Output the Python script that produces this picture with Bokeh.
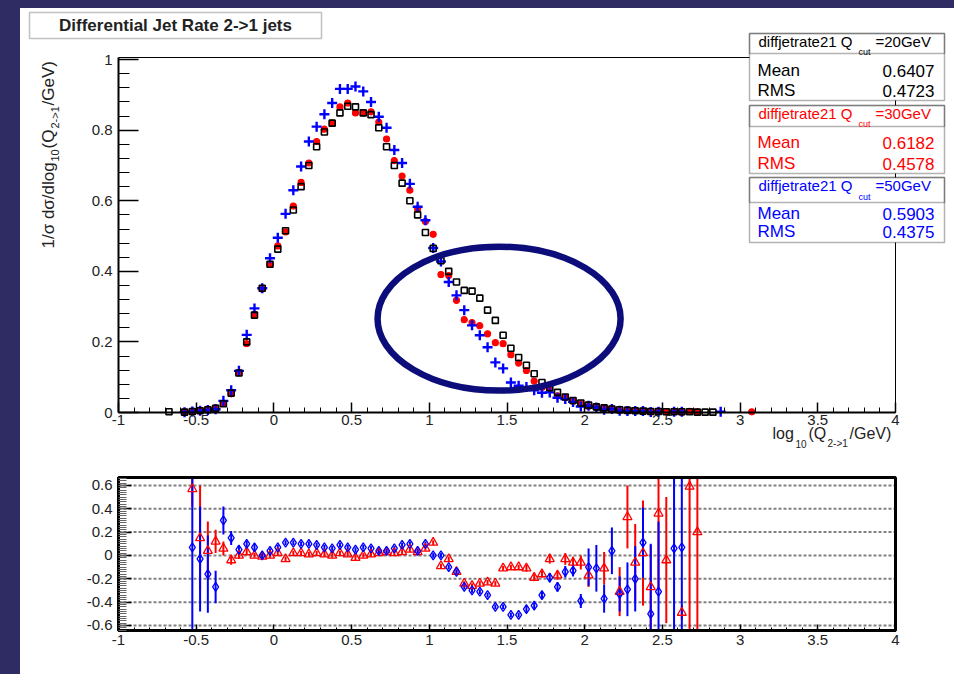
import math
import numpy as np
from bokeh.plotting import figure
from bokeh.models import (Range1d, SingleIntervalTicker, CustomJSTickFormatter, Label,
                          BoxAnnotation, Spacer, ColumnDataSource)
from bokeh.layouts import column, row
from bokeh.embed import file_html
from bokeh.resources import INLINE

nan = float("nan")

# ---------------------------------------------------------------- data
# bin centres of log10(Q_{2->1}/GeV)
bin_centres = [
    -0.675, -0.625, -0.575, -0.525, -0.475, -0.425, -0.375, -0.325, -0.275, -0.225,
    -0.175, -0.125, -0.075, -0.025, 0.025, 0.075, 0.125, 0.175, 0.225, 0.275,
    0.325, 0.375, 0.425, 0.475, 0.525, 0.575, 0.625, 0.675, 0.725, 0.775,
    0.825, 0.875, 0.925, 0.975, 1.025, 1.075, 1.125, 1.175, 1.225, 1.275,
    1.325, 1.375, 1.425, 1.475, 1.525, 1.575, 1.625, 1.675, 1.725, 1.775,
    1.825, 1.875, 1.925, 1.975, 2.025, 2.075, 2.125, 2.175, 2.225, 2.275,
    2.325, 2.375, 2.425, 2.475, 2.525, 2.575, 2.625, 2.675, 2.725, 2.775,
    2.825, 2.875, 2.925, 2.975, 3.025, 3.075,
]

# normalised differential rate, Q_cut = 20 GeV
rate_q20 = [
    0.002, nan, 0.001, 0.003, 0.005, 0.008, 0.012, 0.025, 0.055, 0.112,
    0.200, 0.276, 0.352, 0.420, 0.463, 0.515, 0.574, 0.640, 0.700, 0.753,
    0.795, 0.820, 0.849, 0.868, 0.866, 0.849, 0.844, 0.807, 0.753, 0.700,
    0.650, 0.600, 0.560, 0.510, 0.465, 0.430, 0.400, 0.370, 0.346, 0.344,
    0.324, 0.290, 0.261, 0.219, 0.182, 0.156, 0.134, 0.110, 0.085, 0.070,
    0.057, 0.044, 0.034, 0.027, 0.021, 0.016, 0.013, 0.010, 0.008, 0.006,
    0.005, 0.004, 0.003, 0.003, 0.002, 0.002, 0.002, 0.002, 0.001, 0.001,
    0.001, nan, nan, nan, nan, nan,
]

# Q_cut = 30 GeV
rate_q30 = [
    nan, nan, 0.002, 0.004, 0.006, 0.009, 0.013, 0.026, 0.053, 0.112,
    0.195, 0.278, 0.350, 0.420, 0.472, 0.512, 0.585, 0.652, 0.707, 0.768,
    0.803, 0.820, 0.866, 0.877, 0.849, 0.849, 0.852, 0.823, 0.775, 0.714,
    0.670, 0.630, 0.577, 0.541, 0.505, 0.391, 0.388, 0.318, 0.263, 0.255,
    0.246, 0.223, 0.198, 0.195, 0.164, 0.140, 0.119, 0.089, 0.071, 0.068,
    0.047, 0.043, 0.032, 0.025, 0.017, 0.015, 0.012, 0.010, 0.006, 0.008,
    0.005, 0.004, 0.002, 0.004, 0.002, 0.002, 0.001, 0.003, 0.002, nan,
    nan, nan, nan, nan, nan, 0.002,
]

# Q_cut = 50 GeV
rate_q50 = [
    nan, nan, 0.001, 0.003, 0.005, 0.007, 0.009, 0.033, 0.063, 0.118,
    0.220, 0.295, 0.352, 0.437, 0.495, 0.563, 0.630, 0.697, 0.768, 0.810,
    0.845, 0.877, 0.917, 0.917, 0.924, 0.910, 0.880, 0.838, 0.807, 0.744,
    0.707, 0.648, 0.583, 0.545, 0.466, 0.428, 0.370, 0.332, 0.290, 0.247,
    0.219, 0.185, 0.142, 0.125, 0.085, 0.076, 0.072, 0.063, 0.056, 0.057,
    0.042, 0.038, 0.030, 0.017, 0.019, 0.014, 0.008, 0.010, 0.005, 0.004,
    0.004, 0.004, 0.0015, 0.002, nan, 0.002, 0.002, nan, nan, nan,
    nan, 0.002, nan, nan, nan, nan,
]

# relative deviation from the Q_cut = 20 GeV curve
ratio_x = [
    -0.525, -0.475, -0.425, -0.375, -0.325, -0.275, -0.225, -0.175, -0.125, -0.075,
    -0.025, 0.025, 0.075, 0.125, 0.175, 0.225, 0.275, 0.325, 0.375, 0.425,
    0.475, 0.525, 0.575, 0.625, 0.675, 0.725, 0.775, 0.825, 0.875, 0.925,
    0.975, 1.025, 1.075, 1.125, 1.175, 1.225, 1.275, 1.325, 1.375, 1.425,
    1.475, 1.525, 1.575, 1.625, 1.675, 1.725, 1.775, 1.825, 1.875, 1.925,
    1.975, 2.025, 2.075, 2.125, 2.175, 2.225, 2.275, 2.325, 2.375, 2.425,
    2.475, 2.525, 2.575, 2.625, 2.675, 2.725,
]
ratio_q30 = [
    0.57, 0.15, 0.04, 0.12, 0.06, -0.04, 0.00, 0.03, 0.00, -0.01,
    0.00, 0.02, -0.03, 0.02, 0.02, 0.01, 0.02, 0.01, 0.00, 0.02,
    0.01, -0.02, 0.00, 0.01, 0.02, 0.03, 0.02, 0.03, 0.05, 0.03,
    0.06, 0.11, -0.09, -0.03, -0.14, -0.24, -0.26, -0.24, -0.23, -0.24,
    -0.11, -0.10, -0.10, -0.11, -0.19, -0.16, -0.03, -0.17, -0.03, -0.06,
    -0.06, -0.17, nan, -0.11, nan, -0.31, 0.33, -0.06, 0.02, -0.27,
    0.36, -0.04, nan, -0.49, 0.59, 0.20,
]
ratio_q30_err = [
    0.15, 0.45, 0.25, 0.10, 0.06, 0.04, 0.03, 0.03, 0.02, 0.02,
    0.02, 0.02, 0.02, 0.02, 0.02, 0.02, 0.02, 0.02, 0.02, 0.02,
    0.02, 0.02, 0.02, 0.02, 0.02, 0.02, 0.02, 0.02, 0.02, 0.02,
    0.02, 0.02, 0.02, 0.02, 0.02, 0.02, 0.02, 0.02, 0.02, 0.02,
    0.02, 0.02, 0.02, 0.03, 0.03, 0.03, 0.04, 0.04, 0.05, 0.05,
    0.06, 0.10, nan, 0.14, nan, 0.21, 0.27, 0.33, 0.45, 0.36,
    0.64, 0.54, nan, 0.06, 1.50, 1.50,
]
ratio_q50 = [
    0.07, -0.03, -0.16, -0.27, 0.30, 0.15, 0.05, 0.10, 0.07, 0.00,
    0.04, 0.07, 0.11, 0.11, 0.10, 0.10, 0.09, 0.07, 0.06, 0.09,
    0.07, 0.05, 0.07, 0.06, 0.04, 0.04, 0.06, 0.09, 0.10, 0.04,
    0.10, 0.00, 0.00, -0.10, -0.14, -0.27, -0.30, -0.31, -0.34, -0.44,
    -0.44, -0.51, -0.51, -0.46, -0.43, -0.34, -0.19, -0.27, -0.14, -0.13,
    -0.39, -0.10, -0.11, -0.37, 0.04, -0.33, -0.29, -0.20, 0.11, -0.50,
    -0.31, nan, 0.06, 0.07, nan, nan,
]
ratio_q50_err = [
    1.50, 0.45, 0.33, 0.14, 0.12, 0.06, 0.04, 0.03, 0.03, 0.02,
    0.02, 0.02, 0.02, 0.02, 0.02, 0.02, 0.02, 0.02, 0.02, 0.02,
    0.02, 0.02, 0.02, 0.02, 0.02, 0.02, 0.02, 0.02, 0.02, 0.02,
    0.02, 0.02, 0.02, 0.02, 0.02, 0.02, 0.02, 0.02, 0.02, 0.02,
    0.02, 0.02, 0.02, 0.03, 0.03, 0.03, 0.04, 0.04, 0.05, 0.05,
    0.06, 0.16, 0.20, 0.12, 0.20, 0.15, 0.23, 0.28, 0.30, 0.60,
    0.60, nan, 1.50, 1.50, nan, nan,
]
ratio_grid_levels = [-0.6, -0.4, -0.2, 0.0, 0.2, 0.4, 0.6]

# statistics boxes: Q_cut label, mean, rms, colour
stat_qcut = ["20GeV", "30GeV", "50GeV"]
stat_mean = ["0.6407", "0.6182", "0.5903"]
stat_rms = ["0.4723", "0.4578", "0.4375"]
stat_colour = ["black", "#ff0000", "#0000ff"]

# ---------------------------------------------------------------- style
PAGE_BG = "#2e2c62"
RING = "#0c0c7a"
FONT = "Liberation Sans"
INK = "#222222"
RED = "#ff0000"
BLUE = "#0000ff"

# page geometry (pixels)
PAD_L, PAD_T = 20, 8
PAGE_W, PAGE_H = 954, 674
SPLIT = 455                      # boundary between the two panels
FRAME_L, FRAME_R = 118, 895      # x = -1 ... 4 in both panels
TOP_FT, TOP_FB = 57, 412         # upper panel: y = Y1_HI ... 0
BOT_FT, BOT_FB = 477, 630        # ratio panel: y = Y2_HI ... Y2_LO

X_LO, X_HI = -1.0, 4.0
Y1_HI = 1.006
Y2_LO, Y2_HI = -0.643, 0.668

PXU_X = (FRAME_R - FRAME_L) / (X_HI - X_LO)
PXU_Y1 = (TOP_FB - TOP_FT) / Y1_HI
PXU_Y2 = (BOT_FB - BOT_FT) / (Y2_HI - Y2_LO)


def gx(px):
    """page pixel column -> x coordinate (both panels)"""
    return X_LO + (px - FRAME_L) / PXU_X


def gy(py):
    """page pixel row -> upper-panel y coordinate"""
    return (TOP_FB - py) / PXU_Y1


def gy2(py):
    """page pixel row -> ratio-panel y coordinate"""
    return Y2_LO + (BOT_FB - py) / PXU_Y2


tick_fmt = CustomJSTickFormatter(code="return String(parseFloat(tick.toFixed(2)));")


def base_figure(height, y_lo, y_hi):
    # the plotting area fills the whole canvas; axes are pinned at data positions
    p = figure(width=PAGE_W - PAD_L, height=height,
               x_range=Range1d(gx(PAD_L), gx(PAGE_W)), y_range=Range1d(y_lo, y_hi),
               output_backend="svg", toolbar_location=None)
    p.min_border = 0
    p.min_border_left = p.min_border_right = 0
    p.min_border_top = p.min_border_bottom = 0
    p.background_fill_color = "white"
    p.border_fill_color = "white"
    p.outline_line_color = None
    p.grid.visible = False
    return p


def style_axes(p, y_axis_lo, y_axis_hi, x_major_in, x_minor_in, y_major_in, y_minor_in,
               y_minor_n, line_w):
    p.xaxis.ticker = SingleIntervalTicker(interval=0.5, num_minor_ticks=5)
    p.yaxis.ticker = SingleIntervalTicker(interval=0.2, num_minor_ticks=y_minor_n)
    p.xaxis.fixed_location = y_axis_lo
    p.yaxis.fixed_location = X_LO
    p.xaxis.bounds = (X_LO, X_HI)
    p.yaxis.bounds = (y_axis_lo, y_axis_hi)
    for ax in (p.xaxis[0], p.yaxis[0]):
        ax.formatter = tick_fmt
        ax.major_tick_out = 0
        ax.minor_tick_out = 0
        ax.axis_line_width = line_w
        ax.axis_line_color = "black"
        ax.major_tick_line_color = "black"
        ax.major_tick_line_width = 1.5
        ax.major_label_text_font = FONT
        ax.major_label_text_font_size = "15px"
        ax.major_label_text_color = INK
    p.xaxis.major_tick_in = x_major_in
    p.xaxis.minor_tick_in = x_minor_in
    p.yaxis.major_tick_in = y_major_in
    p.yaxis.minor_tick_in = y_minor_in
    p.yaxis.major_label_standoff = 6


def add_text(p, px, py, text, size, color=INK, align="left",
             baseline="middle", angle=0.0, style="normal"):
    p.add_layout(Label(x=gx(px), y=gy(py), text=text, text_font=FONT,
                       text_font_size=f"{size}px", text_color=color,
                       text_align=align, text_baseline=baseline, angle=angle,
                       text_font_style=style))


# ---------------------------------------------------------------- upper panel
top = base_figure(SPLIT - PAD_T, gy(SPLIT), gy(PAD_T))
style_axes(top, 0, Y1_HI, 10, 5, 20, 11, 5, 2)
top.xaxis.major_label_standoff = 2

# remaining frame edges
top.line(x=[X_LO, X_HI, X_HI], y=[Y1_HI, Y1_HI, 0], line_color="black", line_width=1)

src = ColumnDataSource(dict(x=bin_centres, q20=np.array(rate_q20), q30=np.array(rate_q30),
                            q50=np.array(rate_q50)))
top.scatter("x", "q30", source=src, marker="circle", size=6, fill_color=RED,
            line_color=RED, line_width=1.2)
top.scatter("x", "q50", source=src, marker="cross", size=10, line_color=BLUE,
            line_width=2.4)
top.scatter("x", "q20", source=src, marker="square", size=6, fill_color=None,
            line_color="black", line_width=1.6)

# highlighted region
top.ellipse(x=[1.449], y=[0.266], width=[1.564], height=[0.408],
            fill_color=None, line_color=RING, line_width=6.5)

# title box
top.add_layout(BoxAnnotation(left=gx(29), right=gx(321), top=gy(12), bottom=gy(38),
                             fill_color="white", fill_alpha=1.0,
                             line_color="#333333", line_width=1.5))
add_text(top, 175, 25, "Differential Jet Rate 2->1 jets", 17, align="center", style="bold")

# y axis title, reading upwards
ROT = math.pi / 2
add_text(top, 48, 248, "1/σ dσ/dlog", 17, angle=ROT)
add_text(top, 54, 161, "10", 11, angle=ROT)
add_text(top, 48, 148, "(Q", 17, angle=ROT)
add_text(top, 54, 128, "2->1", 11, angle=ROT)
add_text(top, 48, 105, "/GeV)", 17, angle=ROT)

# x axis title
add_text(top, 772, 433, "log", 16)
add_text(top, 795, 443, "10", 10)
add_text(top, 808, 433, "(Q", 16)
add_text(top, 827, 443, "2->1", 10)
add_text(top, 849, 433, "/GeV)", 16)

# statistics boxes
box_rows = [(33, 53, 100), (105, 126, 173), (177, 202, 242)]
row_y = [(41, 51, 70, 90), (113, 123, 142, 163), (185, 196, 213, 231)]
BOX_L, BOX_R = 749, 944
for (t, s, b), (hy, sy, my, ry), q, mean, rms, col in zip(
        box_rows, row_y, stat_qcut, stat_mean, stat_rms, stat_colour):
    top.add_layout(BoxAnnotation(left=gx(BOX_L), right=gx(BOX_R), top=gy(t), bottom=gy(b),
                                 fill_color="white", fill_alpha=1.0,
                                 line_color="black", line_width=1.5))
    top.add_layout(BoxAnnotation(left=gx(BOX_L), right=gx(BOX_R), top=gy(t), bottom=gy(s),
                                 fill_alpha=0.0, line_color="black", line_width=1.5))
    add_text(top, 758, hy, "diffjetrate21 Q", 15, color=col)
    add_text(top, 858, sy, "cut", 9, color=col)
    add_text(top, 875, hy, "=" + q, 15, color=col)
    add_text(top, 757, my, "Mean", 17, color=col)
    add_text(top, 934, my, mean, 17, color=col, align="right")
    add_text(top, 757, ry, "RMS", 17, color=col)
    add_text(top, 934, ry, rms, 17, color=col, align="right")

# ---------------------------------------------------------------- ratio panel
bot = base_figure(PAGE_H - SPLIT, gy2(PAGE_H), gy2(SPLIT))
style_axes(bot, Y2_LO, Y2_HI, 6, 3, 13, 8, 10, 3)
bot.yaxis.minor_tick_line_color = "#666666"
bot.xaxis.major_label_standoff = 4

# dashed reference levels across the frame
bot.segment(x0=X_LO, x1=X_HI, y0=ratio_grid_levels, y1=ratio_grid_levels,
            line_color="#808080", line_width=2, line_dash="3 2")

r30 = np.array(ratio_q30)
e30 = np.array(ratio_q30_err)
r50 = np.array(ratio_q50)
e50 = np.array(ratio_q50_err)
# error bars are cut at the frame edges
rsrc = ColumnDataSource(dict(
    x=ratio_x, r30=r30, r50=r50,
    lo30=np.clip(r30 - e30, Y2_LO, Y2_HI), hi30=np.clip(r30 + e30, Y2_LO, Y2_HI),
    lo50=np.clip(r50 - e50, Y2_LO, Y2_HI), hi50=np.clip(r50 + e50, Y2_LO, Y2_HI)))
bot.segment(x0="x", y0="lo30", x1="x", y1="hi30", source=rsrc, line_color=RED, line_width=2)
bot.segment(x0="x", y0="lo50", x1="x", y1="hi50", source=rsrc, line_color=BLUE, line_width=2)
bot.scatter("x", "r30", source=rsrc, marker="triangle", size=9, fill_color=None,
            line_color=RED, line_width=1.3)
bot.scatter("x", "r50", source=rsrc, marker="diamond", size=9, fill_color=None,
            line_color=BLUE, line_width=1.3)

# frame of the ratio panel
bot.quad(left=[X_LO], right=[X_HI], bottom=[Y2_LO], top=[Y2_HI], fill_color=None,
         line_color="black", line_width=3)

# ---------------------------------------------------------------- page
panels = column(top, bot, spacing=0, styles={"background-color": "white"})
page = column(
    Spacer(width=PAGE_W, height=PAD_T, styles={"background-color": PAGE_BG}),
    row(Spacer(width=PAD_L, height=PAGE_H - PAD_T, styles={"background-color": PAGE_BG}),
        panels, spacing=0),
    spacing=0, styles={"background-color": PAGE_BG},
)

open("out.html", "w").write(file_html(page, INLINE))
